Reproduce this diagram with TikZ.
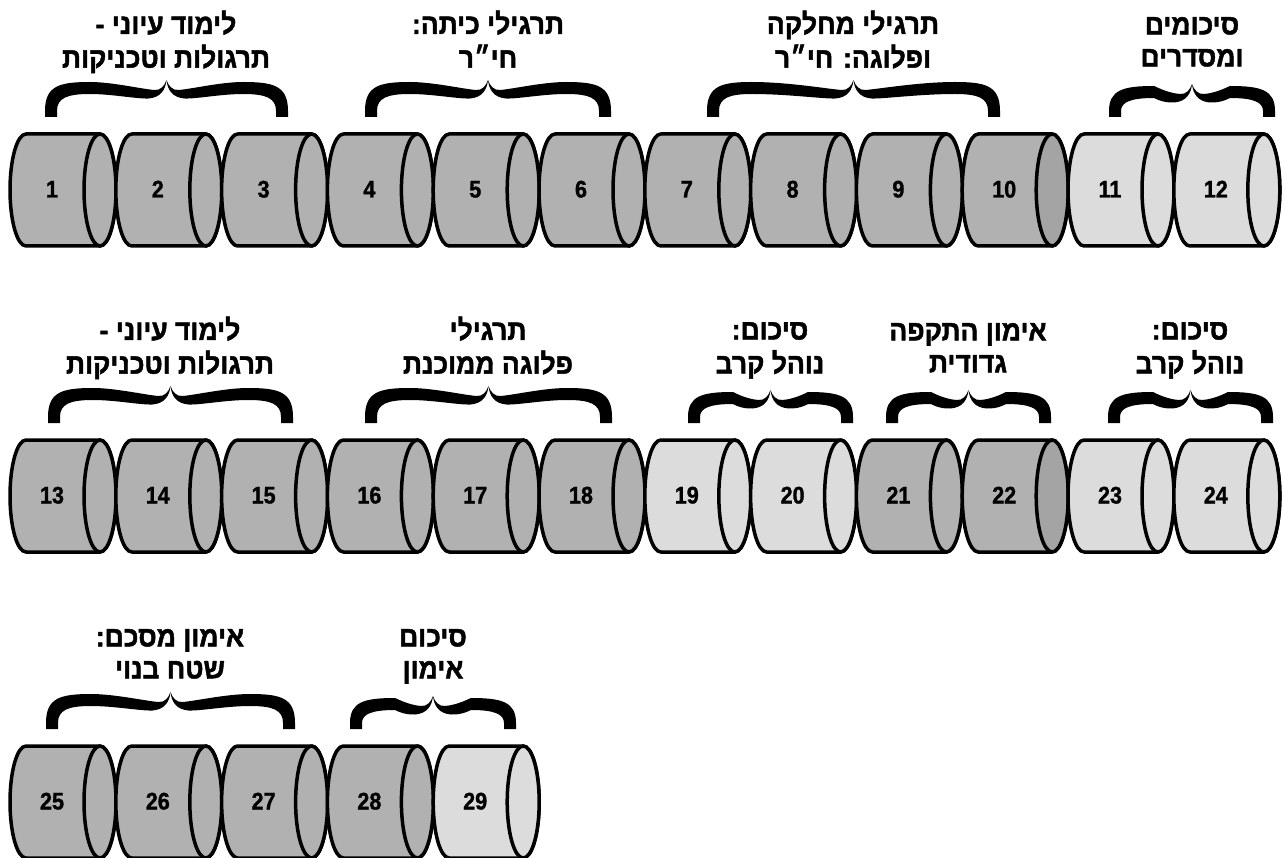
\documentclass[tikz,border=0pt]{standalone}
\usepackage{fontspec}
\setmainfont{Liberation Sans}
\newfontfamily\hebfont[Script=Hebrew, FakeStretch=0.93,
  BoldFeatures={FakeBold=1.6}]{Liberation Sans}
\newfontfamily\numfont[FakeStretch=0.9, BoldFeatures={FakeBold=1.2}]{Liberation Sans}
\TeXXeTstate=1

\definecolor{drumdark}{HTML}{B1B1B1}
\definecolor{drumlight}{HTML}{DCDCDC}
\definecolor{facedark}{HTML}{A4A4A4}

\tikzset{
  drumline/.style={draw=black, line width=3.5pt, line join=round},
  drumnum/.style={font=\numfont\bfseries\fontsize{24}{26}\selectfont,
    inner sep=0pt, text height=17pt, text depth=0pt},
  grouplabel/.style={font=\hebfont\bfseries\fontsize{28.5}{32}\selectfont,
    align=center, inner sep=0pt},
}

% one right-to-left line of a label
\newcommand\heb[1]{\strut\beginR#1\endR}

% drum: number, left x, top y, body colour, face colour
\newcommand\drum[5]{%
  \pgfmathsetmacro\dl{#2}%
  \pgfmathsetmacro\dt{#3}%
  \pgfmathsetmacro\db{#3+112}%
  \pgfmathsetmacro\dc{#3+56}%
  \path[drumline, fill=#4] (\dl+16,\dt) -- (\dl+90,\dt)
    arc[start angle=-90, end angle=90, x radius=16, y radius=56]
    -- (\dl+16,\db)
    arc[start angle=90, end angle=270, x radius=16, y radius=56] -- cycle;
  \path[drumline, fill=#5] (\dl+90,\dc) ellipse[x radius=16, y radius=56];
  \node[drumnum] (n#1) at (\dl+42,\dc-1) {#1};
}

% left half of a curly brace, local frame: tip at (#1,0), foot at y=#2
\newcommand\halfbrace[2]{%
  \fill[black] (0,#2) -- (0,#2-6)
    .. controls (0,6) and (14,2) .. (45,2)
    .. controls (#1*0.55,2) and (#1-25,9) .. (#1-12,10)
    .. controls (#1-6,10.5) and (#1-2,6) .. (#1,0)
    .. controls (#1-1,10) and (#1-6,17.5) .. (#1-18,18.5)
    .. controls (#1-30,19) and (#1*0.55,14) .. (45,14)
    .. controls (22,14) and (12,18) .. (12,#2-6)
    -- (12,#2) -- cycle;
}

% curly brace: left x, right x, tip y, height
\newcommand\curlybrace[4]{%
  \pgfmathsetmacro\bhw{(#2-#1)/2}%
  \begin{scope}[shift={(#1,#3)}]\halfbrace{\bhw}{#4}\end{scope}%
  \begin{scope}[shift={(#2,#3)}, xscale=-1]\halfbrace{\bhw}{#4}\end{scope}%
}

\begin{document}
\begin{tikzpicture}[x=1pt, y=-1pt]
\useasboundingbox (0,0) rectangle (1285,858);
\fill[white] (0,0) rectangle (1285,858);

\def\pitch{105.8}

% ---------- row 1 ----------
\foreach \n/\i/\bc/\fc in {1/0/drumdark/drumdark, 2/1/drumdark/drumdark,
  3/2/drumdark/drumdark, 4/3/drumdark/drumdark, 5/4/drumdark/drumdark,
  6/5/drumdark/drumdark, 7/6/drumdark/drumdark, 8/7/drumdark/drumdark,
  9/8/drumdark/drumdark, 10/9/drumdark/facedark, 11/10/drumlight/drumlight,
  12/11/drumlight/drumlight}
  {\drum{\n}{10+\pitch*\i}{134}{\bc}{\fc}}

\curlybrace{45}{288}{80}{37}
\curlybrace{365}{611}{80}{37}
\curlybrace{707}{1000}{80}{37}
\curlybrace{1109}{1275}{84}{33}

\node[grouplabel] (g1) at (166,44) {\heb{לימוד עיוני -}\\\heb{תרגולות וטכניקות}};
\node[grouplabel] (g2) at (488,44) {\heb{תרגילי כיתה:}\\\heb{חי״ר}};
\node[grouplabel] (g3) at (853,44) {\heb{תרגילי מחלקה}\\\heb{ופלוגה: חי״ר}};
\node[grouplabel] (g4) at (1192,44) {\heb{סיכומים}\\\heb{ומסדרים}};

% ---------- row 2 ----------
\foreach \n/\i/\bc/\fc in {13/0/drumdark/drumdark, 14/1/drumdark/drumdark,
  15/2/drumdark/drumdark, 16/3/drumdark/drumdark, 17/4/drumdark/drumdark,
  18/5/drumdark/drumdark, 19/6/drumlight/drumlight, 20/7/drumlight/drumlight,
  21/8/drumdark/drumdark, 22/9/drumdark/facedark, 23/10/drumlight/drumlight,
  24/11/drumlight/drumlight}
  {\drum{\n}{10+\pitch*\i}{440}{\bc}{\fc}}

\curlybrace{48}{293}{386}{37}
\curlybrace{365}{612}{386}{37}
\curlybrace{688}{853}{390}{33}
\curlybrace{886}{1051}{390}{33}
\curlybrace{1108}{1273}{390}{33}

\node[grouplabel] (g5) at (170,350) {\heb{לימוד עיוני -}\\\heb{תרגולות וטכניקות}};
\node[grouplabel] (g6) at (488,350) {\heb{תרגילי}\\\heb{פלוגה ממוכנת}};
\node[grouplabel] (g7) at (770,350) {\heb{סיכום:}\\\heb{נוהל קרב}};
\node[grouplabel] (g8) at (968,350) {\heb{אימון התקפה}\\\heb{גדודית}};
\node[grouplabel] (g9) at (1190,350) {\heb{סיכום:}\\\heb{נוהל קרב}};

% ---------- row 3 ----------
\foreach \n/\i/\bc/\fc in {25/0/drumdark/drumdark, 26/1/drumdark/drumdark,
  27/2/drumdark/drumdark, 28/3/drumdark/drumdark, 29/4/drumlight/drumlight}
  {\drum{\n}{10+\pitch*\i}{746}{\bc}{\fc}}

\curlybrace{46}{295}{692}{37}
\curlybrace{350}{516}{696}{33}

\node[grouplabel] (g10) at (170,656) {\heb{אימון מסכם:}\\\heb{שטח בנוי}};
\node[grouplabel] (g11) at (433,656) {\heb{סיכום}\\\heb{אימון}};
\end{tikzpicture}
\end{document}
